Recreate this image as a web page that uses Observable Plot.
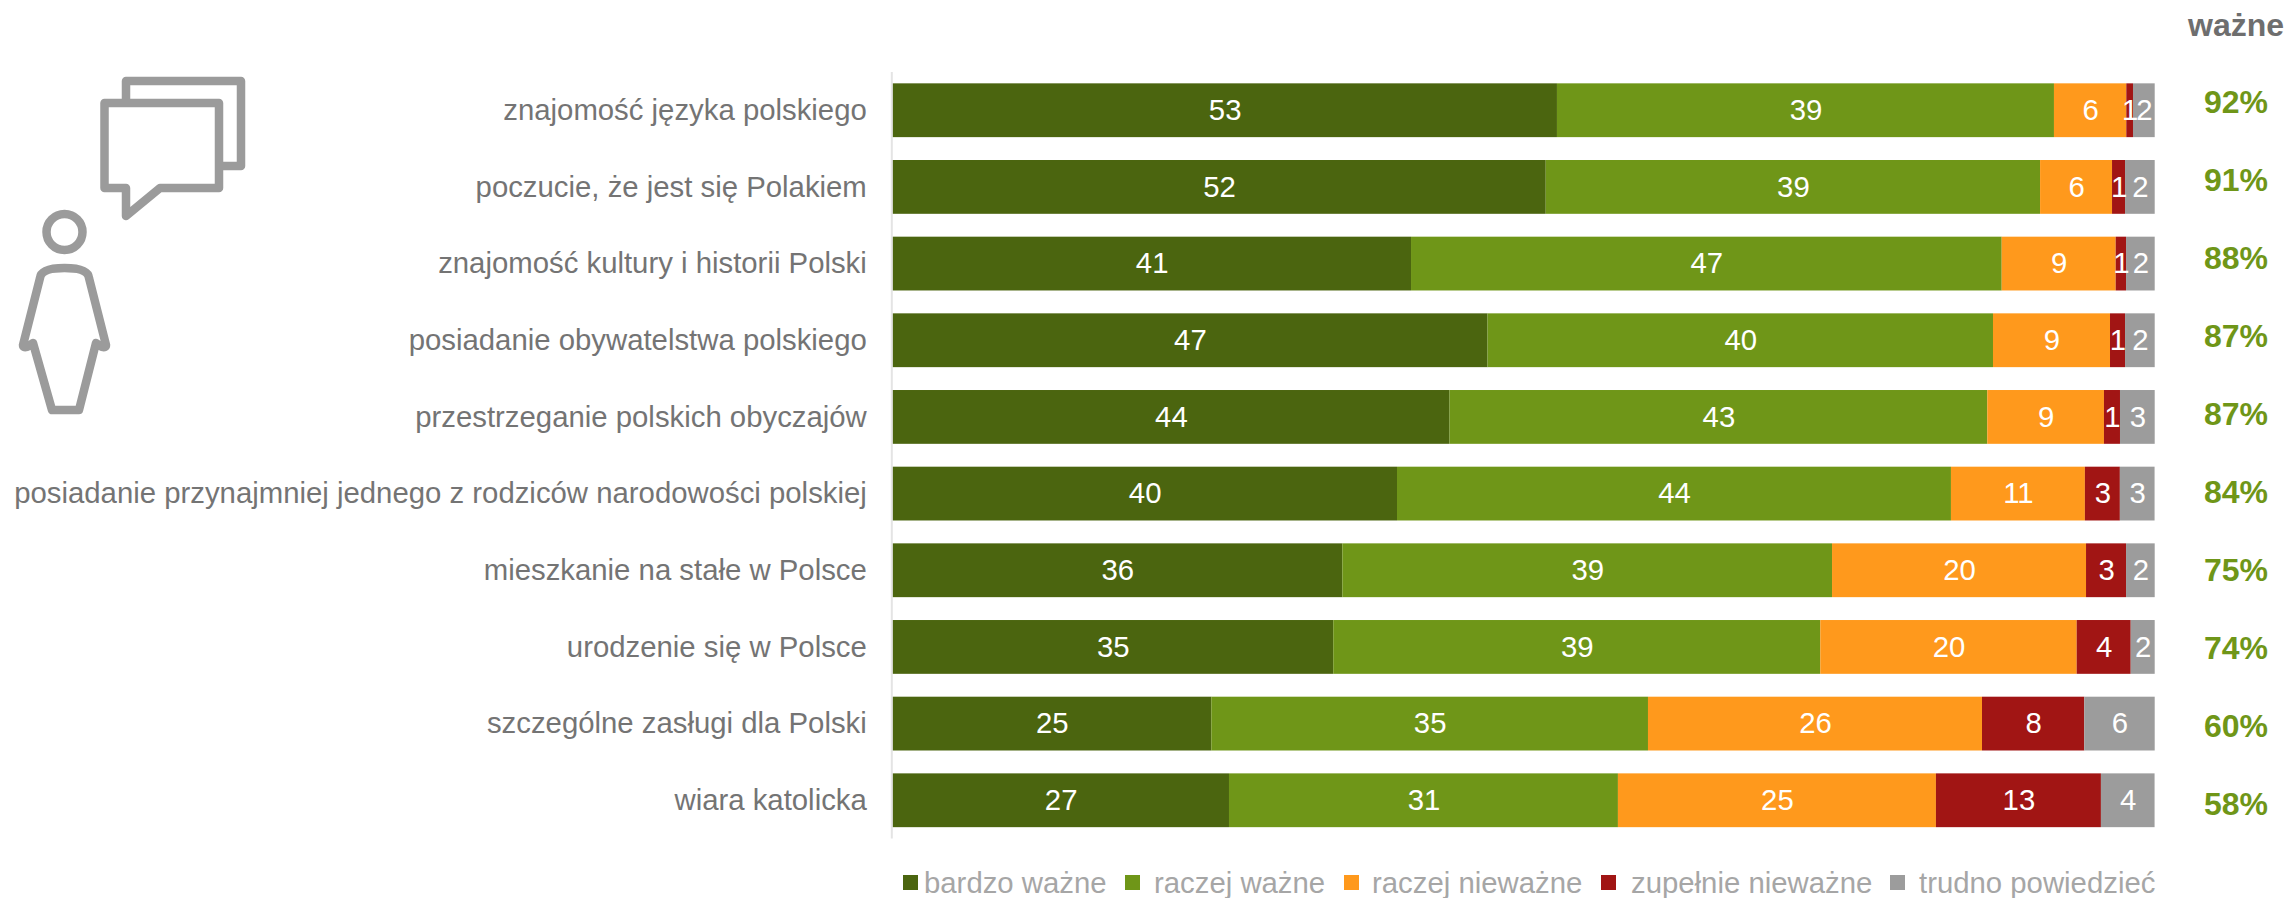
<!DOCTYPE html>
<html lang="pl">
<head>
<meta charset="utf-8">
<script src="https://cdn.jsdelivr.net/npm/d3@7"></script>
<script src="https://cdn.jsdelivr.net/npm/@observablehq/plot@0.6"></script>
<style>
  html, body { margin: 0; padding: 0; background: #fff; overflow: hidden; }
  body { position: relative; width: 2288px; height: 898px; font-family: "Liberation Sans", Arial, sans-serif; }
  #chart, #totals, #icon { position: absolute; top: 0; }
  #chart { left: 0; }
  #totals { left: 2183px; }
  #icon { left: 0; pointer-events: none; }
  #legend { position: absolute; top: 860px; left: 0; width: 2288px; height: 38px; color: #a6a6a6; font-size: 29.33px; }
  #legend .sw { position: absolute; top: 15px; width: 15px; height: 15px; }
  #legend .tx { position: absolute; top: 6px; line-height: 34px; white-space: nowrap; }
</style>
</head>
<body>
<div id="chart"></div>
<div id="totals"></div>
<svg id="icon" width="260" height="430" viewBox="0 0 260 430" fill="none" stroke="#9b9b9b" stroke-width="8.5" stroke-linejoin="round" stroke-linecap="round">
  <path d="M126,99 V81 H241 V166 H222"/>
  <path d="M104.5,103 H219 V188 H160 L126,216 V188 H104.5 Z"/>
  <circle cx="64.5" cy="232" r="18"/>
  <path d="M40,278 Q41,268 64.5,268 Q88,268 89,278 L106,345 Q106,348 102,347 L96,343 L79,410 H52 L33,343 L27,347 Q23,348 23,345 Z"/>
</svg>
<div id="legend"></div>
<script>
const categories = [
  "znajomość języka polskiego",
  "poczucie, że jest się Polakiem",
  "znajomość kultury i historii Polski",
  "posiadanie obywatelstwa polskiego",
  "przestrzeganie polskich obyczajów",
  "posiadanie przynajmniej jednego z rodziców narodowości polskiej",
  "mieszkanie na stałe w Polsce",
  "urodzenie się w Polsce",
  "szczególne zasługi dla Polski",
  "wiara katolicka"
];
const seriesNames = ["bardzo ważne", "raczej ważne", "raczej nieważne", "zupełnie nieważne", "trudno powiedzieć"];
const seriesColors = ["#4b650f", "#6f9618", "#ff991c", "#a11514", "#9c9c9c"];
const bardzoWazne = [52.65, 51.76, 41.09, 47.15, 44.14, 39.98, 35.65, 34.93, 25.27, 26.67];
const raczejWazne = [39.37, 39.16, 46.79, 40.04, 42.60, 43.88, 38.79, 38.58, 34.59, 30.81];
const raczejNiewazne = [5.73, 5.70, 9.03, 9.27, 9.24, 10.61, 20.12, 20.31, 26.46, 25.19];
const zupelnieNiewazne = [0.53, 1.03, 0.82, 1.19, 1.27, 2.77, 3.17, 4.28, 8.10, 13.07];
const trudnoPowiedziec = [1.72, 2.35, 2.27, 2.35, 2.75, 2.75, 2.27, 1.90, 5.58, 4.25];
const wazneTotals = ["92%", "91%", "88%", "87%", "87%", "84%", "75%", "74%", "60%", "58%"];
const totalsHeader = "ważne";

const seriesValues = [bardzoWazne, raczejWazne, raczejNiewazne, zupelnieNiewazne, trudnoPowiedziec];
const rows = seriesNames.flatMap((series, s) =>
  categories.map((category, c) => ({category, series, value: seriesValues[s][c]}))
);
const totalsRows = categories.map((category, c) => ({category, total: wazneTotals[c]}));

const font = '"Liberation Sans", Arial, sans-serif';

const chart = Plot.plot({
  width: 2288,
  height: 860,
  marginLeft: 892.3,
  marginRight: 133.3,
  marginTop: 71.9,
  marginBottom: 21.4,
  style: {fontFamily: font, background: "transparent"},
  x: {domain: [0, 100], axis: null},
  y: {domain: categories, paddingInner: 0.2983, paddingOuter: 0.14915, align: 0.5, round: false, axis: null},
  color: {domain: seriesNames, range: seriesColors},
  marks: [
    Plot.barX(rows, Plot.stackX({x: "value", y: "category", fill: "series"})),
    Plot.ruleX([0], {stroke: "#e4e4e4", strokeWidth: 2, dx: -1}),
    Plot.axisY({tickSize: 0, tickPadding: 26, fontSize: 29.33, color: "#747474", label: null}),
    Plot.text(rows, Plot.stackX({
      x: "value", y: "category", z: "series",
      text: d => String(Math.round(d.value)),
      fill: "white", fontSize: 29.33
    }))
  ]
});
document.getElementById("chart").append(chart);

const totals = Plot.plot({
  width: 105,
  height: 860,
  marginLeft: 0,
  marginRight: 0,
  marginTop: 102.3,
  marginBottom: 56,
  style: {fontFamily: font, background: "transparent", overflow: "visible"},
  y: {type: "point", domain: categories, padding: 0, round: false, axis: null},
  marks: [
    Plot.text(totalsRows, {y: "category", text: "total", frameAnchor: "middle", fill: "#6f9618", fontSize: 32, fontWeight: "bold"}),
    Plot.text([totalsHeader], {frameAnchor: "top", dy: 25 - 102.3, lineAnchor: "middle", fill: "#6e6e6e", fontSize: 32, fontWeight: "bold"})
  ]
});
document.getElementById("totals").append(totals);

const legendSwatchX = [903, 1125, 1344, 1601, 1890];
const legendTextX = [924, 1154, 1372, 1631, 1919];
const legend = document.getElementById("legend");
seriesNames.forEach((name, i) => {
  const sw = document.createElement("div");
  sw.className = "sw";
  sw.style.left = legendSwatchX[i] + "px";
  sw.style.background = seriesColors[i];
  const tx = document.createElement("div");
  tx.className = "tx";
  tx.style.left = legendTextX[i] + "px";
  tx.textContent = name;
  legend.append(sw, tx);
});
</script>
</body>
</html>
